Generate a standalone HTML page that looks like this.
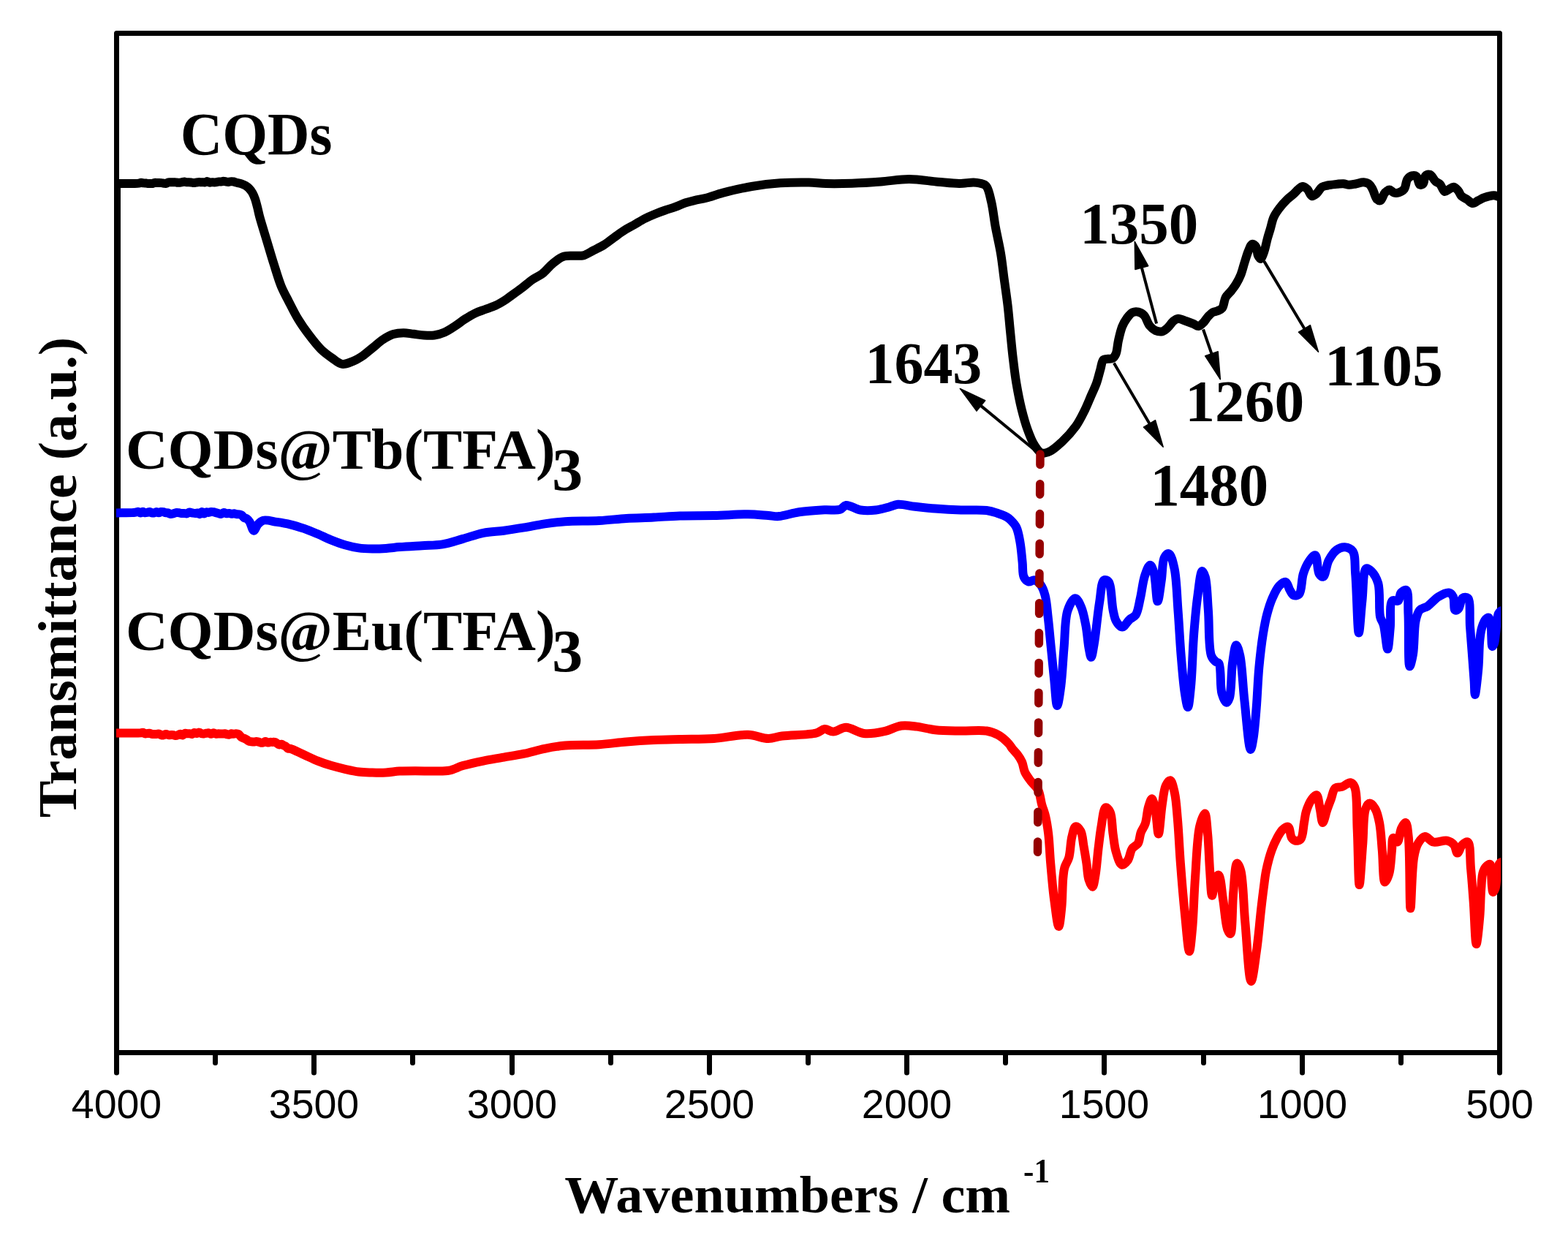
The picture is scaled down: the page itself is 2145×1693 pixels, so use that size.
<!DOCTYPE html>
<html><head><meta charset="utf-8"><title>FTIR spectra</title>
<style>html,body{margin:0;padding:0;background:#fff;overflow:hidden}svg{display:block}</style>
</head><body>
<svg width="2145" height="1693" viewBox="0 0 2145 1693">
<rect x="0" y="0" width="2145" height="1693" fill="#fff"/>
<rect x="159.5" y="45.5" width="1892" height="1394" fill="none" stroke="#000" stroke-width="7" stroke-linejoin="round"/>
<defs><clipPath id="pc"><rect x="159" y="0" width="1894" height="1693"/></clipPath></defs>
<rect x="156" y="251" width="9" height="455" fill="#000"/>
<path clip-path="url(#pc)" d="M150.0,251.0 C153.3,251.0 155.8,251.0 160.0,251.0 C167.3,251.0 185.2,251.3 190.0,250.6 C191.6,250.4 192.1,249.8 193.1,249.8 C194.1,249.8 195.2,250.3 196.2,250.4 C197.2,250.5 198.3,250.4 199.3,250.5 C200.3,250.7 201.4,251.0 202.4,251.1 C203.4,251.2 204.5,250.9 205.5,250.9 C206.5,250.9 207.6,251.1 208.6,251.0 C209.6,250.8 210.7,250.0 211.7,249.9 C212.7,249.7 213.8,250.0 214.8,250.0 C215.8,250.1 216.9,249.9 217.9,249.9 C218.9,249.9 220.0,250.0 221.0,250.1 C222.0,250.2 223.1,250.6 224.1,250.7 C225.2,250.9 226.2,251.0 227.2,250.8 C228.3,250.6 229.3,249.5 230.4,249.3 C231.4,249.1 232.5,249.3 233.5,249.3 C234.5,249.3 235.6,249.3 236.6,249.3 C237.7,249.3 238.7,249.2 239.8,249.3 C240.8,249.3 241.8,249.6 242.9,249.7 C243.9,249.8 245.0,249.9 246.0,249.8 C247.0,249.7 248.1,249.4 249.1,249.2 C250.2,249.0 251.2,248.6 252.2,248.6 C253.3,248.7 254.3,249.2 255.4,249.3 C256.4,249.4 257.5,249.2 258.5,249.2 C259.5,249.2 260.6,249.3 261.6,249.5 C262.7,249.6 263.7,250.1 264.8,250.1 C265.8,250.1 266.8,249.8 267.9,249.6 C268.9,249.4 270.0,249.3 271.0,249.2 C272.0,249.1 273.1,249.1 274.2,249.2 C275.2,249.2 276.3,249.3 277.3,249.3 C278.4,249.3 279.5,249.5 280.5,249.3 C281.6,249.1 282.6,248.1 283.7,248.1 C284.7,248.2 285.8,249.4 286.8,249.6 C287.9,249.8 288.9,249.3 290.0,249.3 C291.1,249.3 292.1,249.4 293.2,249.4 C294.2,249.4 295.3,249.4 296.3,249.2 C297.4,249.0 298.4,248.5 299.5,248.4 C300.5,248.3 301.6,248.5 302.7,248.4 C303.7,248.2 304.8,247.7 305.8,247.8 C306.9,247.8 307.9,248.2 309.0,248.4 C310.1,248.6 311.3,249.0 312.4,248.9 C313.6,248.9 314.7,248.2 315.9,248.2 C317.0,248.1 318.2,248.2 319.4,248.4 C320.5,248.7 321.4,249.1 322.8,249.5 C324.8,250.0 328.0,250.5 330.3,251.3 C332.4,252.0 334.3,252.8 336.0,253.8 C337.7,254.8 339.1,255.9 340.5,257.4 C342.2,259.1 343.8,261.2 345.2,263.5 C346.7,266.1 347.9,269.2 349.0,272.3 C350.2,275.7 351.0,279.2 352.0,283.0 C353.1,287.1 353.7,290.8 355.1,296.1 C357.4,304.6 361.7,318.2 365.0,329.2 C368.3,340.2 371.6,351.6 375.0,362.3 C378.2,372.5 381.3,383.2 384.9,392.0 C388.0,399.4 391.2,404.9 394.8,411.9 C398.8,419.7 403.2,428.9 408.0,436.7 C412.6,444.3 417.6,451.3 422.9,458.2 C428.1,465.1 433.8,472.5 439.4,478.0 C444.2,482.6 449.1,486.1 454.0,489.5 C458.6,492.7 463.2,497.2 468.0,497.9 C472.5,498.6 477.4,496.2 482.0,494.4 C486.8,492.5 491.5,489.7 496.0,486.7 C500.8,483.5 505.3,479.2 510.0,475.5 C514.7,471.8 519.2,467.4 524.0,464.3 C528.5,461.3 533.2,458.5 538.0,457.0 C542.5,455.6 547.3,455.2 552.0,455.2 C556.7,455.2 561.3,456.3 566.0,456.8 C570.7,457.4 575.3,458.2 580.0,458.5 C584.7,458.8 589.4,459.1 594.0,458.5 C598.7,457.8 603.5,456.5 608.0,454.5 C612.8,452.4 617.4,449.2 622.0,446.2 C626.7,443.2 631.3,439.4 636.0,436.4 C640.6,433.5 645.2,430.6 650.0,428.3 C654.6,426.1 659.3,424.8 664.0,423.0 C668.7,421.3 673.4,419.9 678.0,417.8 C682.8,415.6 688.0,412.4 692.0,409.8 C695.1,407.8 697.0,406.1 700.0,403.9 C704.0,401.0 709.4,397.3 714.0,393.8 C718.7,390.2 723.2,385.9 728.0,382.6 C732.6,379.4 737.5,377.6 742.0,374.2 C746.9,370.4 751.2,364.5 756.0,360.6 C760.5,356.9 765.1,352.9 770.0,351.1 C774.5,349.5 779.3,350.0 784.0,349.7 C788.7,349.4 793.5,350.4 798.0,349.3 C802.8,348.1 807.3,344.7 812.0,342.3 C816.7,339.9 821.4,337.8 826.0,335.0 C830.8,332.0 835.3,328.1 840.0,324.8 C844.7,321.5 849.3,318.0 854.0,315.0 C858.6,312.1 863.3,309.8 868.0,307.1 C872.7,304.4 877.3,301.4 882.0,299.0 C886.6,296.6 891.3,294.6 896.0,292.7 C900.6,290.8 905.3,289.1 910.0,287.5 C914.7,285.9 919.4,284.6 924.0,282.9 C928.7,281.2 933.5,278.8 938.0,277.3 C942.1,275.9 945.7,275.1 950.0,274.1 C954.9,272.9 960.2,272.2 966.0,270.7 C973.1,268.9 980.4,265.9 989.2,263.6 C1000.5,260.6 1015.2,257.2 1028.3,255.0 C1041.3,252.8 1054.4,251.2 1067.5,250.3 C1080.5,249.4 1095.2,249.3 1106.6,249.5 C1115.4,249.7 1121.5,250.8 1130.1,251.0 C1140.7,251.3 1153.3,251.1 1165.4,250.7 C1178.1,250.3 1191.5,249.5 1204.6,248.5 C1217.6,247.6 1230.7,245.0 1243.7,245.0 C1256.8,245.0 1270.8,247.7 1282.9,248.7 C1293.4,249.6 1303.5,251.0 1312.3,251.0 C1319.5,251.0 1326.7,249.4 1331.8,249.5 C1335.1,249.6 1337.3,249.8 1340.0,250.5 C1343.0,251.3 1346.5,251.6 1348.9,254.2 C1352.6,258.1 1354.0,267.4 1356.0,275.5 C1358.5,285.7 1359.7,299.1 1361.9,310.9 C1364.1,322.7 1367.0,334.5 1369.0,346.4 C1371.0,358.2 1372.1,370.0 1373.7,381.8 C1375.3,393.6 1377.1,405.5 1378.5,417.3 C1379.9,429.1 1380.8,441.0 1382.0,452.8 C1383.2,464.6 1384.2,476.4 1385.6,488.2 C1387.0,500.0 1388.3,511.9 1390.3,523.7 C1392.3,535.5 1394.7,548.0 1397.4,559.1 C1399.9,569.1 1402.5,578.8 1405.7,587.5 C1408.5,595.2 1411.5,603.1 1415.1,608.8 C1418.0,613.2 1420.9,618.1 1424.6,619.4 C1428.0,620.6 1432.4,618.9 1436.4,617.1 C1441.7,614.7 1447.4,609.2 1452.9,604.1 C1459.3,598.1 1466.5,590.2 1471.8,582.8 C1476.7,576.0 1480.1,568.7 1483.7,561.5 C1487.2,554.4 1490.2,546.6 1493.1,540.0 C1495.6,534.3 1498.0,529.6 1500.0,524.0 C1502.1,518.1 1503.6,511.1 1505.3,505.4 C1506.7,500.6 1507.1,494.2 1509.5,492.0 C1511.2,490.5 1513.9,491.1 1516.0,490.8 C1518.0,490.5 1520.3,491.0 1522.0,490.0 C1523.9,488.9 1525.3,486.7 1526.5,484.0 C1528.4,479.8 1528.5,472.1 1529.9,466.0 C1531.4,459.7 1532.9,452.3 1535.1,446.8 C1536.9,442.3 1539.1,438.5 1541.6,435.1 C1543.9,432.1 1546.5,428.6 1549.4,427.3 C1551.8,426.2 1554.7,426.1 1557.2,426.7 C1559.9,427.3 1562.7,428.8 1565.0,431.2 C1568.1,434.4 1569.8,441.9 1572.8,445.5 C1575.2,448.4 1577.7,450.7 1580.6,452.0 C1583.4,453.2 1586.9,453.9 1589.7,453.3 C1592.5,452.7 1595.0,450.3 1597.5,448.1 C1600.3,445.6 1602.6,441.1 1605.3,439.0 C1607.4,437.4 1609.3,436.0 1611.7,435.8 C1614.7,435.6 1618.7,437.8 1622.1,439.0 C1625.6,440.2 1629.4,441.6 1632.5,442.9 C1635.1,444.0 1637.3,446.2 1639.5,446.0 C1641.8,445.8 1644.0,443.3 1646.0,441.4 C1648.3,439.2 1650.2,435.5 1652.5,433.0 C1654.6,430.8 1656.7,428.4 1659.0,427.1 C1661.0,426.0 1663.4,426.1 1665.5,425.2 C1667.7,424.2 1670.3,423.5 1672.0,421.3 C1674.5,418.2 1674.4,410.7 1676.7,406.6 C1678.7,403.0 1682.1,400.6 1684.5,397.5 C1686.8,394.5 1689.0,391.8 1691.0,388.4 C1693.3,384.5 1695.6,380.1 1697.5,375.4 C1699.6,370.2 1700.9,364.0 1702.7,358.5 C1704.4,353.2 1705.9,347.3 1707.9,342.9 C1709.5,339.4 1711.1,334.2 1713.1,333.8 C1714.7,333.5 1717.0,335.7 1718.3,337.7 C1720.0,340.4 1719.5,346.5 1720.9,349.4 C1721.9,351.4 1723.3,354.1 1724.5,354.0 C1726.0,353.8 1727.6,348.6 1729.0,345.0 C1730.9,339.9 1732.3,331.7 1733.9,326.0 C1735.2,321.2 1736.5,317.5 1737.8,313.0 C1739.3,308.0 1740.2,302.1 1742.3,297.3 C1744.3,292.8 1747.0,289.0 1750.0,285.0 C1753.1,280.8 1757.2,276.2 1760.8,272.7 C1763.9,269.7 1767.1,267.6 1770.0,265.0 C1772.7,262.5 1775.3,259.0 1777.7,257.3 C1779.3,256.1 1780.7,254.9 1782.3,255.0 C1784.2,255.1 1786.6,257.0 1788.5,258.8 C1790.8,261.1 1792.2,267.5 1794.6,268.1 C1796.5,268.6 1798.8,266.6 1800.8,265.0 C1803.5,262.9 1805.6,257.7 1808.5,255.8 C1810.9,254.2 1813.3,254.1 1816.2,253.5 C1819.8,252.7 1824.7,252.3 1828.5,251.9 C1831.8,251.6 1834.8,251.0 1837.7,251.2 C1840.4,251.4 1842.7,252.6 1845.4,252.7 C1848.3,252.8 1851.4,252.0 1854.6,251.5 C1858.1,250.9 1862.1,249.1 1865.4,249.3 C1868.2,249.5 1871.1,250.3 1873.1,251.9 C1875.2,253.5 1876.2,256.0 1877.7,258.8 C1879.8,262.6 1881.3,270.5 1883.8,272.7 C1885.2,274.0 1887.0,274.8 1888.5,274.2 C1890.8,273.3 1892.2,266.0 1894.6,263.5 C1896.4,261.6 1898.7,259.6 1900.8,259.6 C1902.8,259.6 1904.8,262.9 1906.9,263.5 C1908.9,264.1 1911.0,264.1 1913.1,263.5 C1915.6,262.8 1918.8,261.3 1920.8,258.8 C1923.3,255.7 1923.1,248.2 1925.4,245.0 C1927.0,242.7 1929.3,241.0 1931.5,240.4 C1933.5,239.9 1936.0,239.9 1937.7,241.2 C1940.0,243.0 1940.2,251.7 1942.3,252.7 C1943.6,253.3 1945.7,252.4 1946.9,251.2 C1948.7,249.3 1948.0,242.4 1950.0,240.4 C1951.5,238.9 1954.2,238.2 1956.2,238.8 C1958.9,239.7 1961.2,245.8 1963.8,248.1 C1965.8,249.9 1968.1,250.0 1970.0,251.9 C1972.4,254.3 1973.8,261.2 1976.2,261.9 C1978.0,262.4 1980.3,259.8 1982.3,258.8 C1984.4,257.8 1986.5,255.6 1988.5,255.8 C1990.6,256.0 1992.9,258.5 1994.6,260.4 C1996.5,262.5 1997.1,266.1 1999.2,268.1 C2001.2,270.1 2004.4,271.1 2006.9,272.7 C2009.5,274.4 2012.0,277.9 2014.6,278.1 C2017.1,278.3 2019.7,275.5 2022.3,274.2 C2024.9,272.9 2027.4,271.4 2030.0,270.4 C2032.5,269.4 2035.3,268.6 2037.7,268.1 C2039.8,267.6 2041.8,267.2 2043.8,267.3 C2045.9,267.4 2047.9,268.3 2050.0,268.8" fill="none" stroke="#000" stroke-width="12" stroke-linejoin="round" stroke-linecap="round"/>
<path clip-path="url(#pc)" d="M150.0,701.4 C153.3,701.4 156.0,701.4 160.0,701.4 C166.1,701.3 178.9,701.3 183.0,700.9 C184.5,700.8 185.1,700.6 186.1,700.4 C187.1,700.2 188.2,699.7 189.2,699.9 C190.3,700.1 191.3,701.6 192.3,701.5 C193.4,701.5 194.4,699.8 195.4,699.8 C196.5,699.7 197.5,701.1 198.6,701.3 C199.6,701.4 200.6,701.0 201.7,700.8 C202.7,700.6 203.8,699.8 204.8,699.9 C205.8,700.0 206.8,701.1 207.9,701.4 C208.9,701.6 210.0,701.6 211.0,701.4 C212.1,701.2 213.1,699.9 214.1,699.9 C215.1,699.9 216.2,701.2 217.2,701.2 C218.2,701.2 219.2,700.2 220.3,700.0 C221.3,699.9 222.4,699.9 223.4,700.1 C224.4,700.3 225.5,700.9 226.5,701.2 C227.5,701.4 228.5,701.1 229.6,701.4 C230.8,701.7 232.0,702.8 233.3,702.9 C234.5,703.1 235.8,702.7 237.0,702.4 C238.3,702.1 239.5,701.3 240.7,701.1 C242.0,700.9 243.2,701.1 244.5,701.2 C245.7,701.4 246.9,701.9 248.2,702.0 C249.4,702.1 250.7,701.8 251.9,701.9 C253.2,702.0 254.5,702.6 255.7,702.4 C256.9,702.2 258.1,700.6 259.4,700.5 C260.6,700.4 261.9,701.2 263.1,701.5 C264.4,701.7 265.7,702.0 266.9,702.0 C268.0,702.0 269.0,701.3 270.0,701.5 C271.1,701.7 272.1,703.3 273.1,703.2 C274.2,703.0 275.1,700.1 276.2,700.0 C277.2,699.9 278.2,702.4 279.3,702.4 C280.3,702.5 281.3,700.6 282.4,700.4 C283.4,700.2 284.5,701.0 285.5,700.9 C286.6,700.8 287.7,700.1 288.8,700.0 C289.9,699.9 291.0,700.1 292.1,700.2 C293.2,700.4 294.2,700.8 295.3,701.1 C296.4,701.4 297.5,701.7 298.6,702.0 C299.8,702.3 301.1,703.2 302.3,703.0 C303.6,702.9 304.8,701.1 306.1,701.0 C307.3,700.9 308.5,702.1 309.8,702.3 C311.0,702.4 312.3,701.9 313.5,702.0 C314.6,702.1 315.7,702.7 316.8,702.8 C317.9,702.8 319.0,702.2 320.1,702.2 C321.1,702.3 322.2,703.0 323.3,703.1 C324.4,703.3 325.5,703.1 326.6,703.3 C327.8,703.5 329.2,703.6 330.3,704.3 C331.6,705.0 332.7,707.1 334.0,708.0 C335.2,708.8 336.6,708.6 337.8,709.4 C339.1,710.3 340.3,711.7 341.5,713.6 C343.4,716.5 345.1,725.5 347.1,725.7 C348.9,725.8 350.5,719.7 352.7,717.3 C354.8,715.0 356.8,712.6 360.1,711.7 C364.7,710.4 372.6,713.0 378.8,713.9 C385.0,714.8 391.2,715.8 397.4,717.3 C403.7,718.8 409.9,720.8 416.1,722.9 C422.4,725.1 428.5,727.7 434.7,730.3 C441.0,732.9 447.1,736.2 453.4,738.7 C459.6,741.2 465.7,743.5 472.0,745.3 C478.2,747.1 484.4,748.5 490.7,749.4 C496.9,750.3 503.1,750.4 509.3,750.5 C515.5,750.6 521.8,750.3 528.0,749.9 C534.2,749.5 539.6,748.7 546.6,748.1 C555.6,747.4 567.3,746.8 577.3,746.2 C586.8,745.6 596.0,745.8 605.3,744.3 C614.7,742.8 623.9,739.5 633.2,736.9 C642.5,734.3 651.8,730.8 661.2,728.9 C670.5,727.1 679.9,726.9 689.2,725.7 C698.5,724.4 707.9,722.9 717.2,721.4 C726.5,719.8 735.8,717.8 745.1,716.4 C754.4,715.0 762.6,713.9 773.1,713.2 C786.6,712.3 805.0,712.9 819.7,712.1 C832.8,711.4 844.6,709.7 857.0,708.9 C869.4,708.2 882.0,708.2 894.3,707.6 C906.3,707.0 917.3,705.8 930.0,705.4 C944.5,704.9 961.1,705.3 976.6,705.0 C992.1,704.7 1009.6,703.1 1023.2,703.3 C1033.7,703.4 1043.5,704.5 1051.2,705.0 C1056.7,705.4 1059.8,706.4 1065.2,706.1 C1073.0,705.6 1083.3,701.7 1093.2,700.3 C1104.1,698.7 1117.9,697.9 1128.1,697.3 C1136.0,696.9 1143.9,698.5 1149.1,696.8 C1152.7,695.6 1153.8,691.5 1157.3,691.0 C1162.3,690.2 1170.3,696.4 1177.1,697.5 C1183.9,698.6 1191.4,698.3 1198.1,697.5 C1204.5,696.8 1211.2,694.7 1216.7,693.3 C1221.1,692.2 1223.8,690.2 1228.4,689.8 C1234.8,689.3 1243.6,691.9 1251.7,692.8 C1260.6,693.8 1269.8,694.8 1279.6,695.6 C1290.6,696.4 1302.9,697.1 1314.6,697.5 C1326.3,697.9 1340.6,696.8 1349.6,698.0 C1355.4,698.8 1359.0,700.0 1363.6,701.5 C1368.3,703.1 1374.3,705.4 1377.6,707.3 C1379.6,708.5 1380.5,709.1 1382.1,710.7 C1384.6,713.1 1388.2,716.7 1390.3,721.0 C1393.0,726.5 1394.2,734.3 1395.5,741.7 C1397.0,750.0 1397.7,760.2 1398.6,768.6 C1399.4,775.9 1398.5,784.6 1400.7,789.2 C1402.1,792.2 1404.5,794.7 1406.9,795.4 C1409.3,796.1 1412.5,792.9 1415.1,793.4 C1418.0,794.0 1421.1,796.7 1423.4,799.6 C1426.2,803.2 1428.0,808.2 1429.6,814.0 C1431.9,822.3 1432.5,834.0 1433.8,845.1 C1435.3,857.9 1436.5,872.6 1437.9,886.4 C1439.3,900.2 1440.6,914.3 1442.0,927.7 C1443.4,940.5 1444.5,964.9 1446.2,965.0 C1447.7,965.1 1449.9,948.6 1451.3,938.1 C1453.2,923.7 1454.0,903.6 1455.5,886.4 C1457.1,869.2 1456.4,846.8 1460.6,834.7 C1463.1,827.3 1467.7,818.2 1471.0,818.2 C1473.9,818.2 1477.0,825.5 1479.2,830.6 C1482.1,837.3 1483.7,846.6 1485.4,855.4 C1487.3,865.1 1488.1,878.4 1489.6,886.4 C1490.6,891.5 1491.6,898.8 1492.7,898.8 C1494.0,898.8 1495.4,888.1 1496.8,880.2 C1499.2,866.6 1501.4,840.2 1504.0,824.4 C1506.0,812.5 1506.4,795.6 1510.2,793.4 C1511.9,792.4 1514.7,793.4 1516.4,795.4 C1520.6,800.3 1520.5,824.8 1522.7,834.7 C1524.0,840.8 1524.5,845.3 1526.8,849.2 C1528.8,852.7 1532.2,857.5 1535.1,857.5 C1538.4,857.5 1542.0,850.0 1545.4,847.1 C1548.2,844.6 1551.5,844.1 1553.7,840.9 C1557.0,836.0 1558.0,826.4 1559.9,818.2 C1562.1,808.7 1563.3,795.4 1566.1,787.2 C1568.1,781.3 1571.1,772.7 1573.3,772.7 C1575.2,772.7 1577.1,778.3 1578.5,783.0 C1581.2,791.7 1581.7,822.3 1583.6,822.3 C1585.2,822.3 1587.3,803.2 1588.8,793.4 C1590.4,783.3 1589.7,768.1 1592.9,762.4 C1594.5,759.5 1597.2,756.7 1599.1,757.2 C1602.1,758.0 1604.5,768.4 1606.4,776.8 C1609.6,790.8 1610.0,815.1 1611.5,834.7 C1613.1,855.0 1614.0,877.0 1615.7,896.7 C1617.2,914.7 1618.8,935.5 1620.9,948.4 C1622.1,956.2 1623.8,967.0 1625.0,967.0 C1626.5,966.9 1627.9,949.9 1629.1,938.1 C1631.0,919.4 1631.5,887.8 1633.3,865.7 C1634.8,847.0 1636.3,829.3 1638.5,814.0 C1640.2,801.7 1642.1,781.4 1644.6,781.0 C1645.9,780.8 1647.6,785.2 1648.8,789.2 C1651.4,798.1 1651.6,818.4 1652.9,834.7 C1654.4,853.8 1653.0,885.9 1657.0,896.7 C1658.6,901.1 1661.1,903.3 1663.2,905.0 C1664.6,906.2 1666.2,905.4 1667.4,907.1 C1670.9,912.1 1668.7,938.8 1671.5,948.4 C1673.1,953.9 1675.7,960.7 1677.7,960.8 C1679.1,960.9 1680.7,957.9 1681.8,954.6 C1684.7,946.4 1684.1,920.3 1686.0,907.1 C1687.4,897.5 1689.1,882.4 1691.1,882.3 C1692.7,882.2 1694.8,890.1 1696.3,896.7 C1699.3,910.0 1700.1,937.8 1702.5,958.8 C1704.9,980.5 1708.2,1024.8 1710.8,1025.0 C1712.1,1025.1 1713.4,1016.3 1714.5,1010.0 C1716.3,999.6 1717.5,983.0 1718.7,968.1 C1720.1,951.0 1720.7,930.7 1722.3,913.2 C1723.8,897.2 1725.7,880.7 1727.8,867.4 C1729.5,857.0 1731.0,848.5 1733.3,839.9 C1735.4,832.1 1737.7,824.6 1740.6,817.9 C1743.3,811.9 1746.2,805.2 1749.8,801.4 C1752.5,798.6 1756.6,795.2 1759.0,795.9 C1761.6,796.7 1762.5,803.7 1764.5,806.9 C1766.2,809.7 1767.6,813.4 1769.9,814.2 C1772.0,815.0 1775.4,814.4 1777.3,812.4 C1781.0,808.5 1780.3,792.8 1782.8,784.9 C1784.8,778.6 1787.1,773.0 1790.1,768.5 C1792.7,764.7 1796.9,758.6 1799.2,759.3 C1802.5,760.3 1801.7,780.4 1804.7,784.9 C1806.2,787.2 1808.5,789.2 1810.2,788.6 C1813.3,787.6 1814.3,773.0 1817.6,766.6 C1820.6,761.0 1824.4,755.0 1828.6,752.0 C1831.9,749.6 1835.9,748.1 1839.5,748.3 C1843.2,748.6 1847.9,750.2 1850.5,753.8 C1854.6,759.6 1853.1,772.1 1854.2,784.9 C1856.0,805.5 1857.0,865.5 1858.8,865.5 C1860.2,865.5 1861.7,836.2 1863.4,821.6 C1865.1,806.9 1864.3,780.0 1868.8,777.6 C1870.8,776.5 1873.9,779.1 1876.2,781.3 C1879.6,784.6 1883.2,790.6 1885.3,797.8 C1888.5,809.0 1885.8,833.7 1888.1,843.6 C1889.3,848.6 1891.3,849.8 1892.7,854.5 C1895.0,862.4 1896.7,887.5 1898.2,887.5 C1899.7,887.5 1900.8,868.5 1901.8,858.2 C1902.9,846.7 1900.4,825.5 1904.6,821.6 C1906.6,819.7 1910.8,823.0 1912.8,821.6 C1915.1,819.9 1914.4,813.1 1916.5,810.6 C1918.3,808.5 1922.0,805.9 1923.8,806.9 C1927.4,808.9 1925.8,826.8 1926.5,839.9 C1927.5,859.2 1926.1,911.0 1928.4,911.3 C1929.5,911.4 1931.8,901.7 1933.0,894.8 C1935.0,883.4 1934.2,859.9 1936.6,849.0 C1938.0,842.6 1939.1,837.8 1942.1,834.4 C1944.8,831.4 1949.3,831.4 1953.1,828.9 C1957.8,825.7 1962.5,819.2 1967.7,816.1 C1972.4,813.3 1978.8,809.8 1982.4,810.6 C1984.9,811.1 1986.6,813.4 1987.9,816.1 C1990.0,820.2 1988.3,833.1 1990.6,834.4 C1991.8,835.1 1993.8,834.0 1995.2,832.6 C1997.6,830.2 1997.8,819.9 2000.7,817.9 C2002.7,816.5 2006.2,816.2 2008.0,817.9 C2012.2,821.8 2010.0,843.9 2011.0,856.7 C2012.0,869.4 2012.9,881.9 2013.9,894.5 C2014.8,907.1 2016.0,922.1 2016.7,932.3 C2017.2,939.3 2017.1,950.0 2017.8,950.0 C2018.7,950.0 2021.3,925.7 2022.4,913.4 C2023.5,900.9 2023.2,885.7 2024.3,875.6 C2025.0,868.8 2025.5,863.7 2027.1,858.6 C2028.5,854.1 2030.7,848.7 2032.8,846.5 C2034.0,845.3 2035.5,844.1 2036.5,844.5 C2037.8,845.0 2038.6,848.2 2039.3,851.0 C2040.4,855.6 2039.9,864.2 2040.3,870.0 C2040.6,875.0 2040.4,883.7 2041.5,884.0 C2042.1,884.1 2043.3,881.8 2044.0,880.0 C2045.2,876.8 2045.4,870.9 2046.0,866.0 C2046.7,860.6 2047.2,853.9 2048.0,849.0 C2048.6,845.2 2048.8,841.4 2050.0,839.0 C2050.8,837.4 2051.7,836.3 2053.0,835.5 C2054.4,834.7 2056.3,834.8 2058.0,834.5" fill="none" stroke="#0000ff" stroke-width="12" stroke-linejoin="round" stroke-linecap="round"/>
<path clip-path="url(#pc)" d="M150.0,1002.4 C153.3,1002.4 155.7,1002.4 160.0,1002.4 C167.7,1002.4 187.2,1002.9 192.3,1002.4 C193.9,1002.2 194.4,1001.6 195.4,1001.8 C196.5,1001.9 197.5,1003.3 198.5,1003.4 C199.5,1003.6 200.6,1003.0 201.7,1002.9 C202.7,1002.8 203.7,1002.7 204.8,1002.8 C205.8,1003.0 206.8,1003.7 207.9,1003.9 C208.9,1004.1 210.0,1003.9 211.0,1003.9 C212.1,1003.9 213.2,1004.0 214.2,1003.9 C215.3,1003.9 216.4,1003.4 217.5,1003.6 C218.6,1003.8 219.6,1005.0 220.8,1005.3 C221.8,1005.5 222.9,1005.4 224.0,1005.1 C225.1,1004.9 226.2,1004.0 227.2,1003.9 C228.3,1003.9 229.4,1004.9 230.5,1005.1 C231.6,1005.3 232.7,1005.1 233.8,1005.1 C234.8,1005.1 235.9,1005.0 237.0,1005.2 C238.1,1005.4 239.1,1006.0 240.2,1006.1 C241.3,1006.1 242.4,1005.7 243.4,1005.3 C244.5,1005.0 245.5,1003.7 246.6,1003.7 C247.7,1003.8 248.8,1005.7 249.8,1005.6 C250.9,1005.4 251.8,1003.0 253.0,1002.7 C254.0,1002.4 255.1,1003.2 256.2,1003.3 C257.3,1003.4 258.3,1003.2 259.4,1003.3 C260.5,1003.4 261.6,1004.1 262.7,1004.0 C263.8,1003.8 264.8,1002.2 265.9,1002.0 C267.0,1001.9 268.1,1003.0 269.2,1002.9 C270.3,1002.8 271.4,1001.4 272.4,1001.5 C273.5,1001.5 274.6,1002.9 275.7,1003.2 C276.8,1003.5 277.9,1003.5 279.0,1003.4 C280.1,1003.3 281.1,1002.9 282.2,1002.7 C283.3,1002.6 284.4,1002.2 285.5,1002.4 C286.6,1002.6 287.7,1003.8 288.8,1003.8 C289.9,1003.7 291.0,1002.3 292.1,1002.3 C293.1,1002.3 294.2,1003.5 295.3,1003.7 C296.4,1003.8 297.5,1003.3 298.6,1003.3 C299.6,1003.3 300.6,1003.5 301.6,1003.6 C302.6,1003.6 303.6,1003.6 304.7,1003.5 C305.7,1003.5 306.7,1003.0 307.7,1003.2 C308.7,1003.3 309.7,1004.1 310.7,1004.3 C311.7,1004.6 312.7,1004.8 313.7,1004.6 C314.8,1004.5 315.7,1003.4 316.8,1003.2 C317.7,1003.1 318.8,1003.8 319.8,1003.8 C320.8,1003.8 321.7,1003.3 322.8,1003.3 C324.0,1003.3 325.4,1003.5 326.5,1004.1 C327.9,1005.0 328.9,1007.3 330.3,1008.2 C331.4,1009.1 332.8,1009.3 334.0,1009.8 C335.1,1010.3 336.2,1010.8 337.3,1011.4 C338.4,1012.1 339.4,1013.2 340.6,1013.6 C341.6,1014.1 342.7,1014.1 343.8,1014.3 C344.9,1014.4 346.0,1014.5 347.1,1014.5 C348.2,1014.5 349.3,1014.1 350.4,1014.1 C351.4,1014.1 352.5,1014.3 353.6,1014.6 C354.7,1014.9 355.8,1015.6 356.9,1015.7 C357.9,1015.8 359.0,1015.7 360.1,1015.4 C361.2,1015.1 362.2,1014.1 363.2,1014.1 C364.3,1014.2 365.3,1015.5 366.3,1015.6 C367.4,1015.7 368.4,1015.0 369.5,1014.9 C370.5,1014.8 371.5,1014.9 372.6,1014.9 C373.6,1014.9 374.7,1014.7 375.7,1014.9 C376.8,1015.2 377.8,1015.8 378.8,1016.4 C379.9,1017.0 380.8,1018.2 381.9,1018.4 C382.9,1018.6 384.0,1017.6 385.0,1017.8 C386.1,1017.9 387.1,1018.8 388.1,1019.3 C389.1,1019.9 390.2,1020.3 391.2,1021.0 C392.3,1021.7 393.2,1023.2 394.3,1023.7 C395.3,1024.1 396.0,1023.5 397.4,1023.8 C401.1,1024.7 409.9,1029.4 416.1,1032.2 C422.3,1035.0 428.4,1038.1 434.7,1040.6 C440.9,1043.1 447.1,1045.2 453.4,1047.1 C459.6,1048.9 465.8,1050.4 472.0,1051.8 C478.2,1053.2 484.4,1054.7 490.7,1055.5 C496.9,1056.3 503.1,1056.3 509.3,1056.5 C515.5,1056.7 521.8,1056.8 528.0,1056.5 C534.2,1056.2 540.2,1055.0 546.6,1054.6 C553.5,1054.2 560.4,1054.2 568.0,1054.2 C576.7,1054.2 587.6,1054.7 596.0,1054.6 C602.8,1054.5 608.5,1054.9 614.6,1053.7 C620.9,1052.5 626.3,1049.1 633.2,1047.1 C641.5,1044.7 651.8,1042.5 661.2,1040.6 C670.5,1038.7 679.9,1037.3 689.2,1035.6 C698.5,1034.0 707.9,1032.7 717.2,1030.7 C726.5,1028.7 735.7,1025.7 745.1,1023.8 C754.4,1021.9 762.6,1020.5 773.1,1019.5 C786.6,1018.3 805.0,1019.1 819.7,1018.2 C832.8,1017.4 844.6,1015.5 857.0,1014.5 C869.4,1013.5 882.0,1012.7 894.3,1012.1 C906.3,1011.5 917.3,1011.4 930.0,1011.1 C944.5,1010.7 961.1,1011.0 976.6,1010.0 C992.2,1009.0 1009.7,1004.3 1023.2,1004.8 C1033.7,1005.2 1042.8,1010.0 1051.2,1010.0 C1058.1,1010.0 1062.2,1007.5 1069.9,1006.5 C1081.9,1004.9 1106.3,1005.2 1116.5,1002.5 C1121.8,1001.1 1124.2,997.4 1128.1,997.1 C1131.9,996.8 1135.5,1000.7 1139.8,1000.6 C1145.1,1000.5 1151.0,994.8 1157.3,994.8 C1164.8,994.8 1173.2,1002.0 1181.7,1003.0 C1190.6,1004.0 1200.9,1002.1 1209.7,1000.2 C1217.9,998.5 1225.3,993.5 1233.0,992.5 C1240.1,991.5 1246.7,992.7 1254.0,993.6 C1262.1,994.6 1270.4,997.3 1279.6,998.3 C1290.3,999.5 1302.9,999.3 1314.6,999.5 C1326.3,999.7 1340.2,997.9 1349.6,999.5 C1356.2,1000.6 1360.9,1002.4 1365.9,1005.3 C1371.0,1008.2 1376.5,1013.4 1379.9,1017.0 C1382.2,1019.5 1383.1,1021.6 1385.0,1024.0 C1387.1,1026.6 1389.9,1029.1 1392.0,1032.0 C1394.3,1035.1 1396.5,1038.3 1398.1,1042.1 C1399.9,1046.3 1400.1,1051.7 1402.1,1056.1 C1404.1,1060.4 1407.2,1064.3 1410.1,1068.2 C1413.2,1072.3 1417.7,1075.3 1420.2,1080.2 C1423.0,1085.8 1423.4,1094.0 1425.2,1100.3 C1426.8,1106.0 1428.8,1110.4 1430.2,1116.4 C1431.9,1123.6 1433.1,1131.4 1434.2,1140.5 C1435.6,1152.1 1436.0,1166.5 1437.2,1180.6 C1438.6,1196.4 1440.1,1215.5 1442.2,1230.8 C1444.0,1243.9 1446.5,1267.0 1448.3,1267.0 C1449.8,1267.0 1451.3,1250.6 1452.3,1240.9 C1453.5,1229.0 1453.3,1210.6 1454.3,1200.7 C1454.9,1194.8 1455.0,1191.3 1456.3,1186.7 C1457.6,1181.9 1460.7,1178.2 1462.3,1172.6 C1464.4,1164.9 1464.4,1152.2 1466.3,1144.5 C1467.7,1138.9 1469.0,1131.0 1471.4,1130.4 C1473.3,1129.9 1476.6,1133.5 1478.4,1136.5 C1481.0,1141.0 1481.1,1149.5 1482.4,1156.5 C1483.8,1164.1 1485.2,1172.7 1486.4,1180.6 C1487.5,1188.1 1487.6,1196.9 1489.4,1202.7 C1490.7,1206.8 1493.1,1213.0 1494.5,1212.8 C1496.2,1212.6 1497.3,1203.2 1498.5,1196.7 C1500.2,1187.1 1501.1,1172.1 1502.5,1160.6 C1503.8,1150.1 1504.8,1140.1 1506.5,1130.4 C1508.1,1121.3 1509.5,1105.2 1512.5,1104.3 C1514.2,1103.8 1517.0,1107.2 1518.6,1110.4 C1521.6,1116.4 1521.2,1131.0 1522.6,1140.5 C1523.9,1149.0 1524.4,1157.3 1526.6,1164.6 C1528.6,1171.2 1531.3,1181.8 1534.6,1182.7 C1537.0,1183.3 1540.5,1179.5 1542.7,1176.6 C1545.6,1172.8 1545.9,1164.6 1548.7,1160.6 C1550.9,1157.4 1554.7,1156.7 1556.7,1153.5 C1559.1,1149.7 1558.9,1143.2 1560.7,1138.5 C1562.3,1134.2 1565.1,1131.2 1566.7,1126.4 C1568.8,1120.3 1569.0,1110.5 1570.8,1104.3 C1572.2,1099.6 1574.3,1092.2 1575.8,1092.3 C1577.7,1092.4 1579.4,1103.5 1580.8,1110.4 C1582.6,1119.1 1583.4,1140.5 1584.8,1140.5 C1586.4,1140.5 1587.9,1112.2 1589.8,1100.3 C1591.3,1090.6 1592.1,1079.9 1594.9,1074.2 C1596.5,1070.8 1599.1,1066.9 1600.9,1067.2 C1603.4,1067.7 1605.3,1077.4 1606.9,1084.3 C1609.1,1094.0 1609.7,1106.8 1610.9,1120.4 C1612.5,1137.9 1613.3,1159.8 1614.9,1180.6 C1616.6,1203.1 1618.8,1229.5 1621.0,1250.9 C1622.9,1269.1 1625.2,1301.1 1627.0,1301.1 C1628.4,1301.1 1629.8,1283.2 1631.0,1271.0 C1632.8,1252.5 1633.3,1224.1 1635.0,1200.7 C1636.7,1177.3 1637.5,1146.0 1641.1,1130.4 C1643.0,1122.3 1646.3,1112.2 1648.1,1112.4 C1650.3,1112.6 1651.0,1129.8 1652.1,1140.5 C1653.5,1154.8 1654.0,1175.6 1655.1,1190.7 C1656.0,1203.2 1656.6,1224.7 1658.1,1224.8 C1659.4,1224.9 1660.7,1205.2 1663.1,1200.7 C1664.3,1198.6 1665.9,1196.3 1667.1,1196.7 C1670.0,1197.6 1671.3,1219.0 1673.2,1230.8 C1675.3,1243.6 1676.4,1263.7 1679.2,1271.0 C1680.4,1274.1 1682.1,1277.3 1683.2,1277.0 C1686.3,1276.2 1685.5,1237.9 1687.2,1220.8 C1688.6,1206.3 1689.5,1181.1 1692.2,1180.6 C1693.6,1180.4 1695.9,1185.6 1697.3,1190.7 C1700.9,1203.4 1701.0,1236.7 1703.3,1261.0 C1705.7,1287.1 1708.3,1341.9 1711.5,1342.0 C1713.8,1342.1 1716.8,1315.0 1719.0,1300.0 C1721.5,1282.9 1723.2,1261.0 1725.0,1245.0 C1726.4,1232.6 1727.7,1221.7 1729.0,1212.0 C1730.0,1204.3 1730.5,1198.6 1732.0,1191.2 C1733.8,1182.4 1736.7,1171.0 1739.6,1162.8 C1741.9,1156.3 1744.4,1150.8 1747.1,1145.8 C1749.5,1141.5 1751.8,1137.1 1754.7,1134.5 C1757.0,1132.5 1760.3,1129.9 1762.2,1130.7 C1764.9,1131.8 1764.8,1142.6 1767.0,1145.8 C1768.3,1147.8 1769.8,1149.2 1771.7,1149.6 C1773.8,1150.1 1777.4,1149.7 1779.3,1147.7 C1782.6,1144.2 1782.7,1131.8 1784.0,1125.0 C1785.1,1119.5 1785.2,1115.0 1786.8,1109.9 C1788.5,1104.3 1791.5,1096.9 1794.4,1092.9 C1796.4,1090.2 1799.3,1086.6 1801.0,1087.2 C1803.6,1088.0 1804.3,1099.8 1805.7,1106.1 C1807.1,1112.4 1807.9,1124.9 1809.5,1125.0 C1811.1,1125.1 1813.3,1113.5 1815.2,1108.0 C1817.0,1102.8 1818.9,1097.9 1820.8,1092.9 C1822.7,1087.9 1823.4,1080.5 1826.5,1077.8 C1828.9,1075.7 1832.8,1077.0 1836.0,1075.9 C1839.7,1074.6 1844.3,1069.7 1847.3,1070.2 C1849.7,1070.6 1851.5,1072.6 1853.0,1075.9 C1857.1,1084.9 1855.6,1113.7 1856.7,1134.5 C1857.9,1158.1 1858.2,1210.1 1859.6,1210.1 C1860.8,1210.1 1862.8,1171.4 1864.3,1153.4 C1865.6,1136.9 1864.8,1114.8 1868.1,1106.1 C1869.6,1102.2 1871.7,1098.7 1873.8,1098.6 C1876.1,1098.4 1879.3,1102.7 1881.3,1106.1 C1884.1,1110.7 1885.5,1117.5 1887.0,1125.0 C1889.1,1135.4 1889.6,1149.8 1890.8,1162.8 C1892.1,1176.8 1891.8,1205.8 1894.5,1206.3 C1896.0,1206.6 1898.7,1199.9 1900.2,1195.0 C1902.6,1187.2 1903.0,1171.8 1904.0,1162.8 C1904.8,1156.2 1904.0,1146.5 1905.9,1145.8 C1907.2,1145.3 1910.0,1151.9 1911.6,1151.5 C1914.1,1150.9 1914.8,1137.3 1917.2,1132.6 C1918.9,1129.3 1921.4,1124.7 1922.9,1125.0 C1925.0,1125.5 1925.7,1135.1 1926.7,1144.0 C1929.0,1163.9 1928.1,1242.2 1929.5,1242.2 C1930.7,1242.2 1931.3,1188.1 1934.2,1172.3 C1935.7,1163.9 1936.9,1158.3 1939.9,1153.4 C1942.3,1149.3 1945.9,1144.3 1949.4,1144.0 C1952.9,1143.7 1956.2,1150.4 1960.7,1151.5 C1966.0,1152.8 1974.5,1148.5 1979.6,1149.6 C1983.5,1150.5 1986.7,1152.6 1989.0,1155.3 C1991.5,1158.2 1991.9,1166.5 1993.8,1166.6 C1995.7,1166.7 1997.7,1157.9 2000.4,1155.3 C2002.6,1153.2 2006.1,1150.5 2008.0,1151.5 C2011.9,1153.6 2010.8,1174.5 2012.0,1187.2 C2013.4,1201.8 2014.6,1218.0 2015.8,1234.5 C2017.1,1252.5 2018.0,1291.0 2019.6,1291.0 C2020.9,1291.0 2023.2,1266.0 2024.3,1253.4 C2025.4,1240.8 2025.3,1226.7 2026.2,1215.6 C2026.9,1206.8 2026.9,1197.7 2029.0,1192.0 C2030.4,1188.2 2032.7,1185.1 2034.7,1183.5 C2035.9,1182.5 2037.6,1181.5 2038.5,1182.0 C2040.1,1183.0 2039.6,1190.4 2040.0,1195.0 C2040.5,1200.3 2040.4,1207.4 2041.0,1212.0 C2041.4,1215.2 2041.6,1219.8 2042.5,1220.0 C2043.2,1220.1 2044.7,1217.2 2045.5,1215.0 C2046.7,1211.4 2046.8,1204.9 2047.5,1200.0 C2048.2,1195.3 2048.5,1189.6 2049.5,1186.0 C2050.2,1183.5 2050.6,1181.3 2052.0,1180.0 C2053.4,1178.7 2056.0,1178.7 2058.0,1178.0" fill="none" stroke="#ff0000" stroke-width="12" stroke-linejoin="round" stroke-linecap="round"/>
<line x1="1423" y1="621" x2="1419.5" y2="1165.3" stroke="#950000" stroke-width="11.5" stroke-dasharray="14.5 26.27" stroke-linecap="round"/>
<line x1="1417.0" y1="616.8" x2="1340.3" y2="553.6" stroke="#000" stroke-width="4"/><polygon points="1313.3,531.4 1347.7,547.8 1336.0,562.1" fill="#000" stroke="#000" stroke-width="1.5" stroke-linejoin="round"/>
<line x1="1523.9" y1="496.6" x2="1573.5" y2="581.1" stroke="#000" stroke-width="4"/><polygon points="1591.2,611.3 1564.5,584.1 1580.5,574.7" fill="#000" stroke="#000" stroke-width="1.5" stroke-linejoin="round"/>
<line x1="1582.1" y1="442.5" x2="1561.3" y2="364.1" stroke="#000" stroke-width="4"/><polygon points="1552.3,330.3 1570.7,363.7 1552.9,368.4" fill="#000" stroke="#000" stroke-width="1.5" stroke-linejoin="round"/>
<line x1="1646.0" y1="450.5" x2="1658.1" y2="485.7" stroke="#000" stroke-width="4"/><polygon points="1669.4,518.8 1648.7,486.8 1666.2,480.8" fill="#000" stroke="#000" stroke-width="1.5" stroke-linejoin="round"/>
<line x1="1729.3" y1="357.4" x2="1785.5" y2="451.2" stroke="#000" stroke-width="4"/><polygon points="1803.5,481.2 1776.5,454.2 1792.4,444.7" fill="#000" stroke="#000" stroke-width="1.5" stroke-linejoin="round"/>
<g stroke="#000" stroke-width="7" stroke-linecap="round"><line x1="159.5" y1="1440" x2="159.5" y2="1467"/><line x1="294.5" y1="1440" x2="294.5" y2="1453.5"/><line x1="429.5" y1="1440" x2="429.5" y2="1467"/><line x1="564.5" y1="1440" x2="564.5" y2="1453.5"/><line x1="700.5" y1="1440" x2="700.5" y2="1467"/><line x1="835.5" y1="1440" x2="835.5" y2="1453.5"/><line x1="970.5" y1="1440" x2="970.5" y2="1467"/><line x1="1105.5" y1="1440" x2="1105.5" y2="1453.5"/><line x1="1240.5" y1="1440" x2="1240.5" y2="1467"/><line x1="1375.5" y1="1440" x2="1375.5" y2="1453.5"/><line x1="1510.5" y1="1440" x2="1510.5" y2="1467"/><line x1="1646.5" y1="1440" x2="1646.5" y2="1453.5"/><line x1="1781.5" y1="1440" x2="1781.5" y2="1467"/><line x1="1916.5" y1="1440" x2="1916.5" y2="1453.5"/><line x1="2051.5" y1="1440" x2="2051.5" y2="1467"/></g>
<g font-family="Liberation Sans, sans-serif" font-size="55.5" text-anchor="middle" fill="#000"><text x="159.5" y="1529.3">4000</text><text x="429.5" y="1529.3">3500</text><text x="700.5" y="1529.3">3000</text><text x="970.5" y="1529.3">2500</text><text x="1240.5" y="1529.3">2000</text><text x="1510.5" y="1529.3">1500</text><text x="1781.5" y="1529.3">1000</text><text x="2051.5" y="1529.3">500</text></g>
<text font-family="Liberation Serif, serif" font-weight="bold" font-size="100" transform="matrix(0.7957,0,0,0.8146,246.72,210.65)" fill="#000">CQDs</text>
<text font-family="Liberation Serif, serif" font-weight="bold" font-size="100" transform="matrix(0.7988,0,0,0.7922,171.91,641.36)" fill="#000">CQDs@Tb(TFA)</text>
<text font-family="Liberation Serif, serif" font-weight="bold" font-size="100" transform="matrix(0.8395,0,0,0.8269,755.34,669.55)" fill="#000">3</text>
<text font-family="Liberation Serif, serif" font-weight="bold" font-size="100" transform="matrix(0.7988,0,0,0.7900,171.91,889.41)" fill="#000">CQDs@Eu(TFA)</text>
<text font-family="Liberation Serif, serif" font-weight="bold" font-size="100" transform="matrix(0.8395,0,0,0.8224,755.34,918.36)" fill="#000">3</text>
<text font-family="Liberation Serif, serif" font-weight="bold" font-size="100" transform="matrix(0.7989,0,0,0.8103,1183.51,524.28)" fill="#000">1643</text>
<text font-family="Liberation Serif, serif" font-weight="bold" font-size="100" transform="matrix(0.8096,0,0,0.8103,1477.32,333.38)" fill="#000">1350</text>
<text font-family="Liberation Serif, serif" font-weight="bold" font-size="100" transform="matrix(0.8154,0,0,0.8074,1621.18,576.19)" fill="#000">1260</text>
<text font-family="Liberation Serif, serif" font-weight="bold" font-size="100" transform="matrix(0.8317,0,0,0.8074,1812.05,527.49)" fill="#000">1105</text>
<text font-family="Liberation Serif, serif" font-weight="bold" font-size="100" transform="matrix(0.8090,0,0,0.8147,1573.43,691.47)" fill="#000">1480</text>
<text font-family="Liberation Serif, serif" font-weight="bold" font-size="100" transform="matrix(0.7419,0,0,0.7282,772.26,1658.04)" fill="#000">Wavenumbers / cm</text>
<text font-family="Liberation Serif, serif" font-weight="bold" font-size="100" transform="matrix(0.4311,0,0,0.4652,1400.08,1617.20)" fill="#000">-1</text>
<text font-family="Liberation Serif, serif" font-weight="bold" font-size="100" transform="matrix(0,-0.7580,0.7422,0,104.21,1118.32)" fill="#000">Transmittance (a.u.)</text>
</svg>
</body></html>
